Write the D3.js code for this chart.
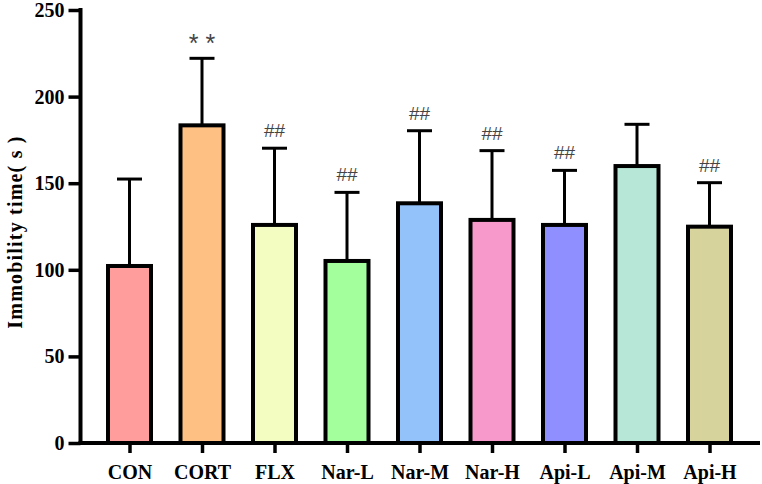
<!DOCTYPE html>
<html>
<head>
<meta charset="utf-8">
<script src="https://cdn.jsdelivr.net/npm/d3@7"></script>
<style>
  html, body { margin: 0; padding: 0; background: #fff; }
  svg { display: block; }
</style>
</head>
<body>
<svg id="chart" width="762" height="484"></svg>
<script>
const categories = ["CON", "CORT", "FLX", "Nar-L", "Nar-M", "Nar-H", "Api-L", "Api-M", "Api-H"];
const means = [102.2, 183.4, 125.9, 105.1, 138.4, 128.8, 125.9, 159.9, 124.9];
const errors = [50.2, 38.7, 44.3, 39.6, 41.9, 40.0, 31.5, 24.1, 25.4];
const marks = ["", "**", "##", "##", "##", "##", "##", "", "##"];
const colors = ["#FF9C9C", "#FFC183", "#F4FDC1", "#A3FF9C", "#93C2FA", "#F799CA", "#8F8FFF", "#B7E8D7", "#D6D49C"];
const yTicks = [0, 50, 100, 150, 200, 250];
const yLabel = "Immobility time( s )";

const svg = d3.select("#chart");
const serif = "'Liberation Serif', 'Times New Roman', serif";

const y = d3.scaleLinear().domain([0, 250]).range([443, 10]);
const x = d3.scalePoint().domain(categories).range([129.5, 709.5]);
const barW = 43;
const axisX = 80.5;

// error bars
const eb = svg.append("g");
categories.forEach((c, i) => {
  const cx = x(c);
  eb.append("line").attr("x1", cx).attr("x2", cx)
    .attr("y1", y(means[i])).attr("y2", y(means[i] + errors[i]))
    .attr("stroke", "#000").attr("stroke-width", 3);
  eb.append("line").attr("x1", cx - 12.5).attr("x2", cx + 12.5)
    .attr("y1", y(means[i] + errors[i])).attr("y2", y(means[i] + errors[i]))
    .attr("stroke", "#000").attr("stroke-width", 3);
});

// bars
svg.append("g").selectAll("rect").data(categories).join("rect")
  .attr("x", d => x(d) - barW / 2)
  .attr("y", (d, i) => y(means[i]))
  .attr("width", barW)
  .attr("height", (d, i) => y(0) - y(means[i]))
  .attr("fill", (d, i) => colors[i])
  .attr("stroke", "#000")
  .attr("stroke-width", 4);

// annotations
svg.append("g").selectAll("text").data(categories).join("text")
  .attr("x", d => x(d))
  .attr("y", (d, i) => y(means[i] + errors[i]) - (marks[i] === "**" ? 6 : 11))
  .attr("text-anchor", "middle")
  .attr("font-family", "'Liberation Sans', Arial, sans-serif")
  .attr("font-size", (d, i) => marks[i] === "**" ? 25 : 19)
  .attr("fill", "#444")
  .text((d, i) => marks[i] === "**" ? "* *" : marks[i]);

// y axis
const yAxis = d3.axisLeft(y).tickValues(yTicks).tickSize(12).tickPadding(4);
const yg = svg.append("g").attr("transform", `translate(${axisX},0)`).call(yAxis);
yg.select(".domain").remove();
yg.selectAll(".tick line").attr("stroke", "#000").attr("stroke-width", 3.5);
yg.selectAll(".tick text")
  .attr("font-family", serif).attr("font-weight", "bold")
  .attr("font-size", 20).attr("fill", "#000");
svg.append("line").attr("x1", axisX).attr("x2", axisX)
  .attr("y1", y(250) - 2).attr("y2", y(0) + 2)
  .attr("stroke", "#000").attr("stroke-width", 4);

// x axis
const xAxis = d3.axisBottom(x).tickSize(10).tickPadding(12);
const xg = svg.append("g").attr("transform", `translate(0,${y(0)})`).call(xAxis);
xg.select(".domain").remove();
xg.selectAll(".tick line").attr("stroke", "#000").attr("stroke-width", 3.5);
xg.selectAll(".tick text")
  .attr("font-family", serif).attr("font-weight", "bold")
  .attr("font-size", 20).attr("fill", "#000");
svg.append("line").attr("x1", axisX - 2).attr("x2", 760)
  .attr("y1", y(0)).attr("y2", y(0))
  .attr("stroke", "#000").attr("stroke-width", 4);

// y label
svg.append("text")
  .attr("transform", "translate(22,232) rotate(-90)")
  .attr("text-anchor", "middle")
  .attr("font-family", serif).attr("font-weight", "bold")
  .attr("font-size", 20).attr("letter-spacing", 1.2).attr("fill", "#000")
  .text(yLabel);
</script>
</body>
</html>
